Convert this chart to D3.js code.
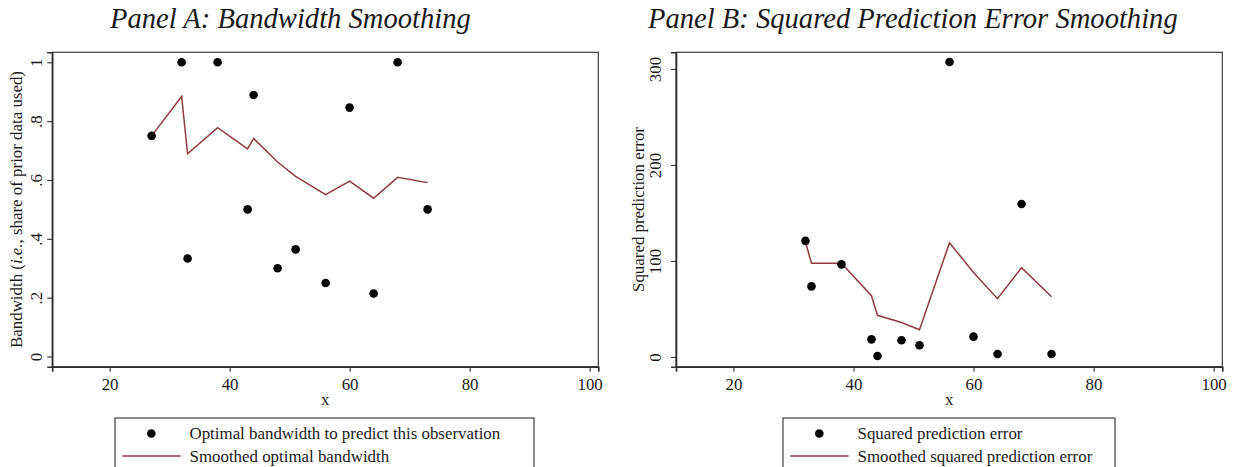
<!DOCTYPE html>
<html>
<head>
<meta charset="utf-8">
<script src="https://cdn.jsdelivr.net/npm/d3@7"></script>
<style>
  html, body { margin: 0; padding: 0; background: #fff; }
  svg { display: block; }
  text { font-family: "Liberation Serif", "Times New Roman", serif; fill: #1a1a1a; }
</style>
</head>
<body>
<svg id="chart" width="1235" height="467"></svg>
<script>
// Observation positions
const obsX = [27, 32, 33, 38, 43, 44, 48, 51, 56, 60, 64, 68, 73];
// Panel A: optimal bandwidth per observation and its smoothed version
const bandwidth = [0.75, 1, 0.333, 1, 0.5, 0.889, 0.3, 0.364, 0.25, 0.846, 0.214, 1, 0.5];
const bandwidthSmooth = [0.75, 0.884, 0.689, 0.778, 0.706, 0.741, 0.661, 0.612, 0.55, 0.596, 0.538, 0.609, 0.591];
// Panel B: squared prediction error (first observation has no prediction)
const errX = [32, 33, 38, 43, 44, 48, 51, 56, 60, 64, 68, 73];
const sqErr = [121, 73.6, 96.5, 18.4, 1.0, 17.4, 12.2, 307.3, 21.2, 3.1, 159.4, 3.1];
const sqErrSmooth = [120, 97.6, 97.6, 63.9, 43.4, 36, 28.5, 119.1, 88, 60.8, 93, 62.8];
// Axis ticks
const xTicks = [20, 40, 60, 80, 100];
const yTicksA = [0, 0.2, 0.4, 0.6, 0.8, 1];
const yTickLabelsA = ["0", ".2", ".4", ".6", ".8", "1"];
const yTicksB = [0, 100, 200, 300];

const svg = d3.select("#chart");
const lineColor = "#8e3b40";
const frameColor = "#2e2e2e";

// Font sizing from a reference string so every label shares one size
const probe = svg.append("text").style("font-size", "20px").text("Smoothed squared prediction error");
const labelSize = 20 * 235 / probe.node().getComputedTextLength();
probe.remove();
const probeT = svg.append("text").style("font-size", "20px").style("font-style", "italic")
  .text("Panel B: Squared Prediction Error Smoothing");
const titleSize = 20 * 530 / probeT.node().getComputedTextLength();
probeT.remove();

const panels = [
  {
    title: "Panel A: Bandwidth Smoothing", titleX: 110,
    left: 52.2, right: 598.3, top: 52.3, bottom: 366.7,
    yDomain: [-0.0347, 1.034], yTicks: yTicksA, yFmt: (d, i) => yTickLabelsA[i],
    yTitle: [{t: "Bandwidth (", it: false}, {t: "i.e.", it: true}, {t: ", share of prior data used)", it: false}],
    yTitleX: 22, yTickX: 42,
    px: obsX, py: bandwidth, sx: obsX, sy: bandwidthSmooth,
    legend: {left: 115, right: 534, labels: ["Optimal bandwidth to predict this observation", "Smoothed optimal bandwidth"]}
  },
  {
    title: "Panel B: Squared Prediction Error Smoothing", titleX: 648,
    left: 676, right: 1222.3, top: 52.3, bottom: 366.7,
    yDomain: [-10.1, 317.4], yTicks: yTicksB, yFmt: d => String(d),
    yTitle: [{t: "Squared prediction error", it: false}],
    yTitleX: 644, yTickX: 661,
    px: errX, py: sqErr, sx: errX, sy: sqErrSmooth,
    legend: {left: 783, right: 1115, labels: ["Squared prediction error", "Smoothed squared prediction error"]}
  }
];

panels.forEach(p => {
  const x = d3.scaleLinear().domain([10.43, 101.45]).range([p.left, p.right]);
  const y = d3.scaleLinear().domain(p.yDomain).range([p.bottom, p.top]);
  const g = svg.append("g");

  // Title
  g.append("text")
    .attr("x", p.titleX).attr("y", 28)
    .style("font-size", titleSize + "px").style("font-style", "italic")
    .text(p.title);

  // Frame
  g.append("rect")
    .attr("x", p.left).attr("y", p.top)
    .attr("width", p.right - p.left).attr("height", p.bottom - p.top)
    .attr("fill", "none").attr("stroke", frameColor).attr("stroke-width", 1.1);

  // X axis
  const xAxis = d3.axisBottom(x).tickValues(xTicks).tickSize(5).tickPadding(6).tickFormat(d3.format("d"));
  const gx = g.append("g").attr("transform", `translate(0,${p.bottom})`).call(xAxis);
  gx.select(".domain").attr("stroke", frameColor).attr("stroke-width", 1.6);
  gx.selectAll(".tick line").attr("stroke", frameColor).attr("stroke-width", 1.1);
  gx.selectAll(".tick text")
    .attr("y", 23).attr("dy", null)
    .style("font-size", labelSize + "px").style("font-family", null).attr("fill", "#1a1a1a");

  // Y axis with rotated labels
  const yAxis = d3.axisLeft(y).tickValues(p.yTicks).tickSize(5).tickFormat(p.yFmt);
  const gy = g.append("g").attr("transform", `translate(${p.left},0)`).call(yAxis);
  gy.select(".domain").attr("stroke", frameColor).attr("stroke-width", 1.6);
  gy.selectAll(".tick line").attr("stroke", frameColor).attr("stroke-width", 1.1);
  gy.selectAll(".tick text")
    .attr("x", null).attr("dy", null)
    .attr("transform", `translate(${p.yTickX - p.left},0) rotate(-90)`)
    .attr("text-anchor", "middle")
    .style("font-size", labelSize + "px").style("font-family", null).attr("fill", "#1a1a1a");

  // Axis titles
  g.append("text")
    .attr("x", (p.left + p.right) / 2).attr("y", p.bottom + 38)
    .attr("text-anchor", "middle").style("font-size", labelSize + "px")
    .text("x");
  const yt = g.append("text")
    .attr("transform", `translate(${p.yTitleX},${(p.top + p.bottom) / 2}) rotate(-90)`)
    .attr("text-anchor", "middle").style("font-size", labelSize + "px");
  p.yTitle.forEach(s => yt.append("tspan").style("font-style", s.it ? "italic" : "normal").text(s.t));

  // Smoothed line
  const line = d3.line().x(d => x(d[0])).y(d => y(d[1]));
  g.append("path")
    .datum(d3.zip(p.sx, p.sy))
    .attr("d", line)
    .attr("fill", "none").attr("stroke", lineColor).attr("stroke-width", 1.5)
    .attr("stroke-linejoin", "miter");

  // Observation dots
  g.selectAll("circle.obs")
    .data(d3.zip(p.px, p.py))
    .join("circle").attr("class", "obs")
    .attr("cx", d => x(d[0])).attr("cy", d => y(d[1]))
    .attr("r", 4.3).attr("fill", "#000");

  // Legend
  const L = p.legend;
  const lg = g.append("g");
  lg.append("rect")
    .attr("x", L.left).attr("y", 418).attr("width", L.right - L.left).attr("height", 70)
    .attr("fill", "#fff").attr("stroke", frameColor).attr("stroke-width", 1.1);
  lg.append("circle").attr("cx", L.left + 36.3).attr("cy", 433.5).attr("r", 4.3).attr("fill", "#000");
  lg.append("line")
    .attr("x1", L.left + 7.3).attr("x2", L.left + 65.5)
    .attr("y1", 456).attr("y2", 456)
    .attr("stroke", lineColor).attr("stroke-width", 1.5);
  lg.append("text").attr("x", L.left + 74.5).attr("y", 439)
    .style("font-size", labelSize + "px").text(L.labels[0]);
  lg.append("text").attr("x", L.left + 74.5).attr("y", 461.5)
    .style("font-size", labelSize + "px").text(L.labels[1]);
});
</script>
</body>
</html>
